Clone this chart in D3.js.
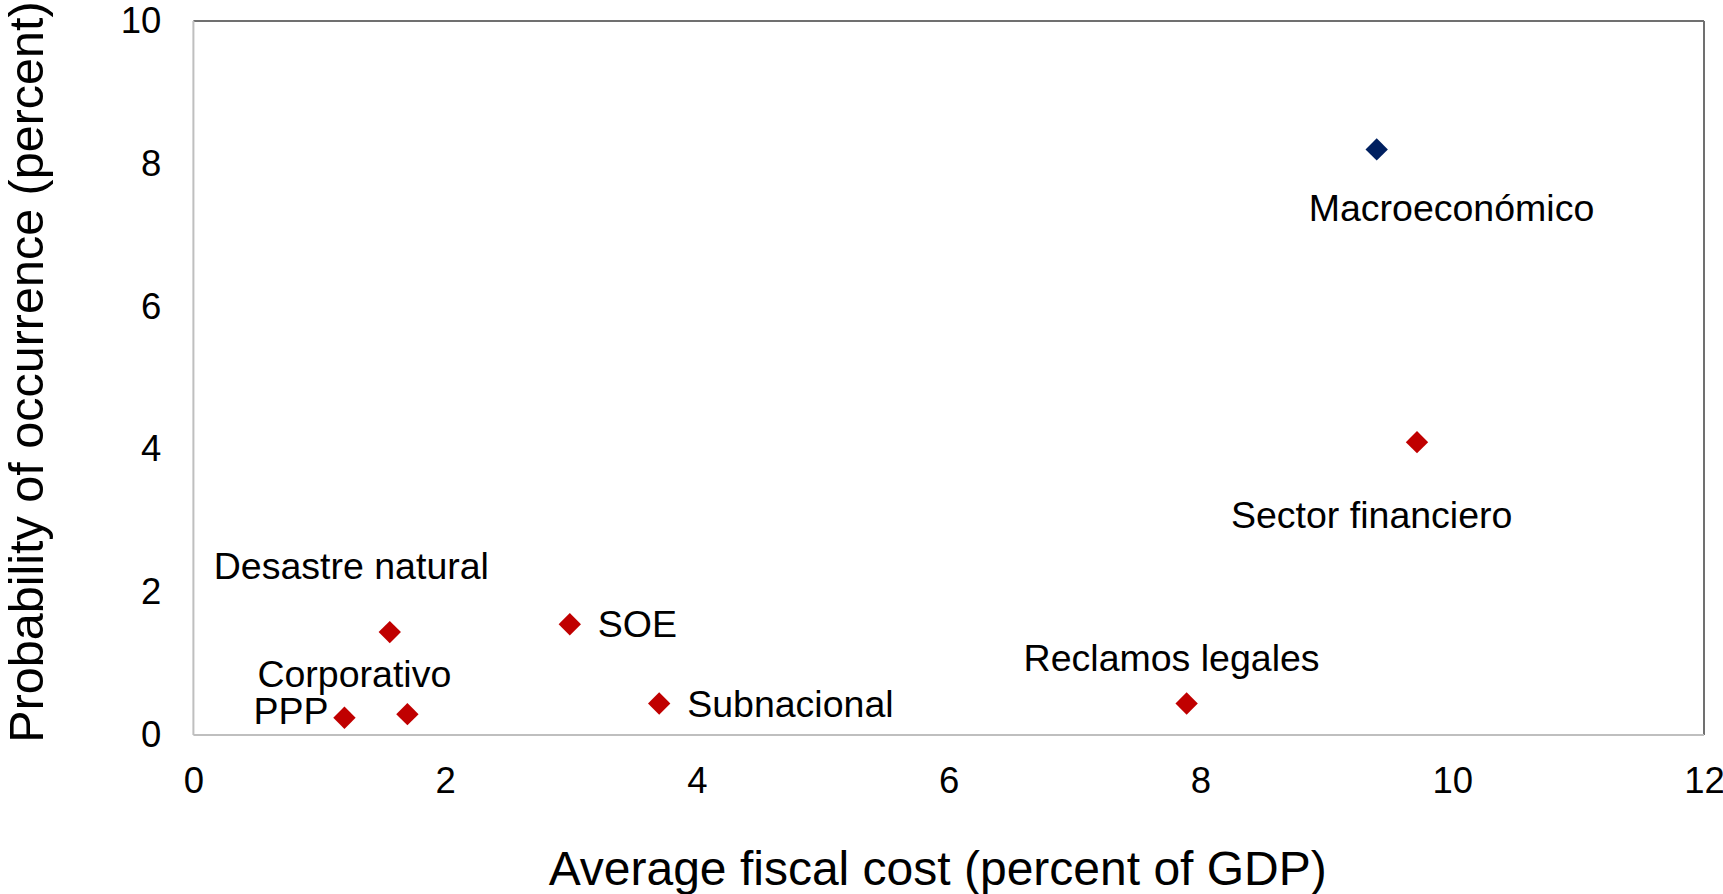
<!DOCTYPE html>
<html>
<head>
<meta charset="utf-8">
<script src="https://cdn.jsdelivr.net/npm/d3@7"></script>
<style>
  html, body { margin: 0; padding: 0; background: #fff; }
  svg { display: block; font-family: "Liberation Sans", Arial, sans-serif; }
</style>
</head>
<body>
<svg id="chart" width="1723" height="894"></svg>
<script>
// Fiscal risks: average fiscal cost vs. probability of occurrence
const riskNames  = ["Macroeconómico", "Sector financiero", "Reclamos legales", "SOE",
                    "Subnacional", "Desastre natural", "Corporativo", "PPP"];
const fiscalCost = [9.40, 9.72, 7.89, 2.99, 3.70, 1.56, 1.70, 1.20];
const probability = [8.20, 4.10, 0.44, 1.55, 0.44, 1.44, 0.29, 0.24];
const riskGroup  = ["macro", "specific", "specific", "specific",
                    "specific", "specific", "specific", "specific"];

const xTicks = [0, 2, 4, 6, 8, 10, 12];
const yTicks = [0, 2, 4, 6, 8, 10];

// label placement relative to each marker, in pixels (left edge, vertical centre)
const labelDx = [-68, -186, -163, 28, 28, -176, -150, -91];
const labelDy = [58, 73, -46, 0, 0, -66, -40, -7];

const colors = { macro: "#002060", specific: "#c00000" };

const margin = { left: 193.4, right: 1723 - 1704, top: 20.9, bottom: 894 - 734.9 };
const W = 1723, H = 894;
const iw = W - margin.left - margin.right;
const ih = H - margin.top - margin.bottom;

const svg = d3.select("#chart");
const g = svg.append("g").attr("transform", `translate(${margin.left},${margin.top})`);

const x = d3.scaleLinear().domain([0, 12]).range([0, iw]);
const y = d3.scaleLinear().domain([0, 10]).range([ih, 0]);

// axes (labels only)
const xAxis = g.append("g")
  .attr("transform", `translate(0,${ih})`)
  .call(d3.axisBottom(x).tickValues(xTicks).tickSize(0).tickPadding(32).tickFormat(d3.format("d")));
const yAxis = g.append("g")
  .call(d3.axisLeft(y).tickValues(yTicks).tickSize(0).tickPadding(32).tickFormat(d3.format("d")));
[xAxis, yAxis].forEach(a => {
  a.select(".domain").remove();
  a.selectAll("text").attr("font-size", 36.5).attr("fill", "#000")
    .attr("font-family", "'Liberation Sans', Arial, sans-serif");
});

// plot frame: light left/bottom, darker top/right
g.append("line").attr("x1", 0).attr("x2", iw).attr("y1", 0).attr("y2", 0)
  .attr("stroke", "#707070").attr("stroke-width", 2);
g.append("line").attr("x1", iw).attr("x2", iw).attr("y1", 0).attr("y2", ih)
  .attr("stroke", "#707070").attr("stroke-width", 2);
g.append("line").attr("x1", 0).attr("x2", 0).attr("y1", 0).attr("y2", ih)
  .attr("stroke", "#bfbfbf").attr("stroke-width", 2);
g.append("line").attr("x1", 0).attr("x2", iw).attr("y1", ih).attr("y2", ih)
  .attr("stroke", "#bfbfbf").attr("stroke-width", 2);

const points = riskNames.map((name, i) => ({
  name, cost: fiscalCost[i], prob: probability[i], group: riskGroup[i],
  dx: labelDx[i], dy: labelDy[i]
}));

// diamond markers
const diamond = d3.symbol().type(d3.symbolSquare).size(250);
g.selectAll("path.marker").data(points).join("path")
  .attr("class", "marker")
  .attr("d", diamond)
  .attr("transform", d => `translate(${x(d.cost)},${y(d.prob)}) rotate(45)`)
  .attr("fill", d => colors[d.group]);

// data labels
g.selectAll("text.label").data(points).join("text")
  .attr("class", "label")
  .attr("x", d => x(d.cost) + d.dx)
  .attr("y", d => y(d.prob) + d.dy)
  .attr("dy", "0.35em")
  .attr("font-size", 37.5)
  .attr("fill", "#000")
  .text(d => d.name);

// axis titles
svg.append("text")
  .attr("x", margin.left + iw / 2 - 11)
  .attr("y", 885)
  .attr("text-anchor", "middle")
  .attr("font-size", 48)
  .attr("fill", "#000")
  .text("Average fiscal cost (percent of GDP)");

svg.append("text")
  .attr("transform", `translate(43,372) rotate(-90)`)
  .attr("text-anchor", "middle")
  .attr("font-size", 48.5)
  .attr("fill", "#000")
  .text("Probability of occurrence (percent)");
</script>
</body>
</html>
